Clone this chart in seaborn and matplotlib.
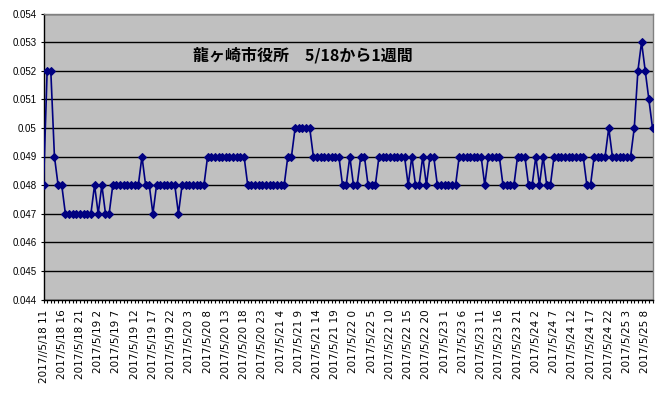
import matplotlib
matplotlib.use("Agg")
import matplotlib.pyplot as plt
import seaborn as sns
import pandas as pd
from matplotlib.ticker import FixedLocator, MultipleLocator

title = "龍ヶ崎市役所　5/18から1週間"

values = [
    0.048, 0.052, 0.052, 0.049, 0.048, 0.048, 0.047, 0.047, 0.047, 0.047,
    0.047, 0.047, 0.047, 0.047, 0.048, 0.047, 0.048, 0.047, 0.047, 0.048,
    0.048, 0.048, 0.048, 0.048, 0.048, 0.048, 0.048, 0.049, 0.048, 0.048,
    0.047, 0.048, 0.048, 0.048, 0.048, 0.048, 0.048, 0.047, 0.048, 0.048,
    0.048, 0.048, 0.048, 0.048, 0.048, 0.049, 0.049, 0.049, 0.049, 0.049,
    0.049, 0.049, 0.049, 0.049, 0.049, 0.049, 0.048, 0.048, 0.048, 0.048,
    0.048, 0.048, 0.048, 0.048, 0.048, 0.048, 0.048, 0.049, 0.049, 0.050,
    0.050, 0.050, 0.050, 0.050, 0.049, 0.049, 0.049, 0.049, 0.049, 0.049,
    0.049, 0.049, 0.048, 0.048, 0.049, 0.048, 0.048, 0.049, 0.049, 0.048,
    0.048, 0.048, 0.049, 0.049, 0.049, 0.049, 0.049, 0.049, 0.049, 0.049,
    0.048, 0.049, 0.048, 0.048, 0.049, 0.048, 0.049, 0.049, 0.048, 0.048,
    0.048, 0.048, 0.048, 0.048, 0.049, 0.049, 0.049, 0.049, 0.049, 0.049,
    0.049, 0.048, 0.049, 0.049, 0.049, 0.049, 0.048, 0.048, 0.048, 0.048,
    0.049, 0.049, 0.049, 0.048, 0.048, 0.049, 0.048, 0.049, 0.048, 0.048,
    0.049, 0.049, 0.049, 0.049, 0.049, 0.049, 0.049, 0.049, 0.049, 0.048,
    0.048, 0.049, 0.049, 0.049, 0.049, 0.050, 0.049, 0.049, 0.049, 0.049,
    0.049, 0.049, 0.050, 0.052, 0.053, 0.052, 0.051, 0.050,
]

x_tick_labels = [
    "2017//5/18 11", "2017/5/18 16", "2017/5/18 21", "2017/5/19 2",
    "2017/5/19 7", "2017/5/19 12", "2017/5/19 17", "2017/5/19 22",
    "2017/5/20 3", "2017/5/20 8", "2017/5/20 13", "2017/5/20 18",
    "2017/5/20 23", "2017/5/21 4", "2017/5/21 9", "2017/5/21 14",
    "2017/5/21 19", "2017/5/22 0", "2017/5/22 5", "2017/5/22 10",
    "2017/5/22 15", "2017/5/22 20", "2017/5/23 1", "2017/5/23 6",
    "2017/5/23 11", "2017/5/23 16", "2017/5/23 21", "2017/5/24 2",
    "2017/5/24 7", "2017/5/24 12", "2017/5/24 17", "2017/5/24 22",
    "2017/5/25 3", "2017/5/25 8",
]

y_ticks = [0.044, 0.045, 0.046, 0.047, 0.048, 0.049, 0.050, 0.051, 0.052, 0.053, 0.054]
y_tick_labels = ["0.044", "0.045", "0.046", "0.047", "0.048", "0.049",
                 "0.05", "0.051", "0.052", "0.053", "0.054"]

df = pd.DataFrame({"idx": range(len(values)), "value": values})

W, H = 658, 398
fig = plt.figure(figsize=(W / 100, H / 100), dpi=100)
fig.patch.set_facecolor("white")
left, right, top, bottom = 43.5, 652.5, 13.5, 299.5
ax = fig.add_axes([left / W, 1 - bottom / H, (right - left) / W, (bottom - top) / H])
ax.set_facecolor("#C0C0C0")

sns.lineplot(data=df, x="idx", y="value", ax=ax, color="#000080",
             linewidth=1.2, marker="D", markersize=4.2,
             markeredgecolor="#000080", markerfacecolor="#000080", zorder=3)

ax.set_xlim(0, len(values) - 1)
ax.set_ylim(0.044, 0.054)

ax.yaxis.set_major_locator(FixedLocator(y_ticks))
ax.set_yticklabels(y_tick_labels, fontfamily="Liberation Sans", fontsize=7)
ax.set_xticks(list(range(0, len(values), 5))[:len(x_tick_labels)])
ax.set_xticklabels(x_tick_labels, rotation=90, fontfamily="DejaVu Sans", fontsize=7.5)
ax.xaxis.set_minor_locator(MultipleLocator(1))

ax.tick_params(axis="x", which="both", direction="out", length=1.8, width=0.8,
               color="black", pad=5.5)
ax.tick_params(axis="y", direction="out", length=2.5, width=0.8, color="black", pad=2.5)

ax.grid(axis="y", color="black", linewidth=1.0)
ax.grid(axis="x", visible=False)
ax.set_axisbelow(True)

for s in ("top", "right"):
    ax.spines[s].set_color("#808080")
    ax.spines[s].set_linewidth(1.0)
for s in ("left", "bottom"):
    ax.spines[s].set_color("black")
    ax.spines[s].set_linewidth(1.0)

ax.set_xlabel("")
ax.set_ylabel("")

ax.text((193 - left) / (right - left), (bottom - 55.5) / (bottom - top), title,
        transform=ax.transAxes, ha="left", va="center", fontsize=11.5,
        fontweight="bold", family=["Noto Sans CJK JP", "DejaVu Sans"], color="black")

fig.savefig("out.png", dpi=100)
